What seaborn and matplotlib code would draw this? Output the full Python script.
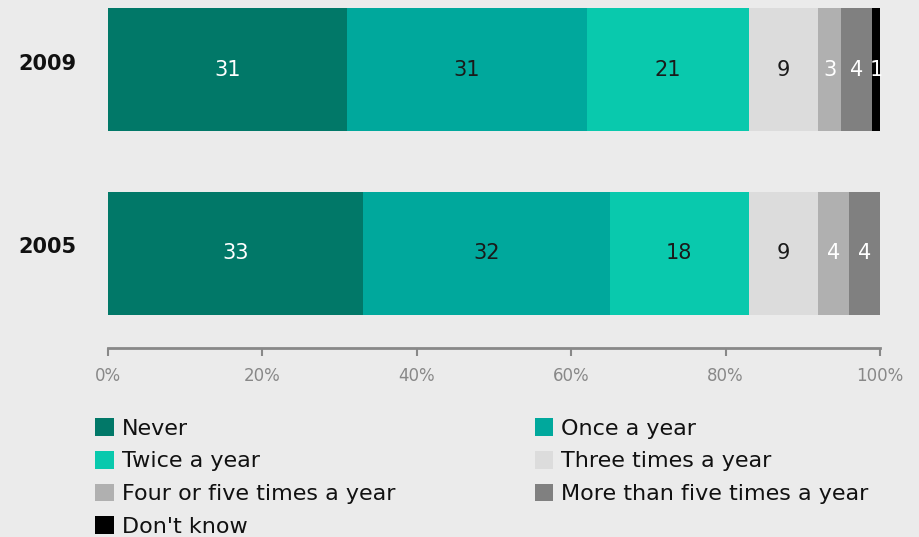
import matplotlib
matplotlib.use("Agg")
import matplotlib.pyplot as plt
from matplotlib.patches import Patch
import matplotlib.transforms as mtransforms
import seaborn as sns
import numpy as np
import pandas as pd

years = ["2009", "2005"]
categories = ["Never", "Once a year", "Twice a year", "Three times a year",
              "Four or five times a year", "More than five times a year", "Don't know"]
values_2009 = [31, 31, 21, 9, 3, 4, 1]
values_2005 = [33, 32, 18, 9, 4, 4, 0]
colors = ["#017868", "#00a89c", "#09c9ad", "#dcdcdc", "#b0b0b0", "#808080", "#000000"]
label_colors = ["white", "#1a1a1a", "#1a1a1a", "#1a1a1a", "white", "white", "white"]
tick_values = [0, 20, 40, 60, 80, 100]
tick_labels = ["0%", "20%", "40%", "60%", "80%", "100%"]

sns.set_theme(style="white")
plt.rcParams['font.family'] = ['DejaVu Sans']
bg = "#ebebeb"

fig = plt.figure(figsize=(9.19, 5.37), dpi=100, facecolor=bg)
ax = fig.add_axes([108/919, 1 - 348/537, 772/919, 348/537])
ax.set_facecolor(bg)

vals = np.array([values_2009, values_2005])
cum = np.cumsum(vals, axis=1)

# draw cumulative layers from largest to smallest
for i in reversed(range(len(categories))):
    df = pd.DataFrame({"year": years, "value": cum[:, i]})
    sns.barplot(data=df, x="value", y="year", order=years, orient="h",
                color=colors[i], saturation=1, width=0.67, errorbar=None,
                edgecolor="none", linewidth=0, ax=ax)

for r in range(len(years)):
    for i in range(len(categories)):
        v = vals[r, i]
        if v == 0:
            continue
        center = cum[r, i] - v / 2
        ax.text(center, r, str(v), ha="center", va="center", fontsize=15,
                color=label_colors[i])

ax.set_xlim(0, 100)
ax.set_ylim(1.514, -0.378)
ax.set_xlabel("")
ax.set_ylabel("")
for s in ["top", "left", "right"]:
    ax.spines[s].set_visible(False)
ax.spines["bottom"].set_color("#888888")
ax.spines["bottom"].set_linewidth(2)
ax.set_xticks(tick_values)
ax.set_xticklabels(tick_labels)
ax.tick_params(axis="x", colors="#888888", length=6, width=1.5, direction="out",
               labelsize=12, pad=8, bottom=True)
ax.tick_params(axis="y", length=0, pad=23)
shift = mtransforms.ScaledTranslation(0, 8/100, fig.dpi_scale_trans)
for lbl in ax.get_yticklabels():
    lbl.set_fontweight("bold")
    lbl.set_fontsize(15)
    lbl.set_color("#111111")
    lbl.set_transform(lbl.get_transform() + shift)

order = [0, 2, 4, 6, 1, 3, 5]
handles = [Patch(facecolor=colors[i], edgecolor="none", label=categories[i]) for i in order]
leg = fig.legend(handles=handles, loc="upper left", bbox_to_anchor=(95/919, 1 - 418/537),
                 ncol=2, frameon=False, fontsize=16, handlelength=0.85, handleheight=0.85,
                 handletextpad=0.35, labelspacing=0.55, columnspacing=6.27, borderpad=0,
                 borderaxespad=0)
for t in leg.get_texts():
    t.set_color("#111111")

fig.savefig("out.png", dpi=100, facecolor=bg)
